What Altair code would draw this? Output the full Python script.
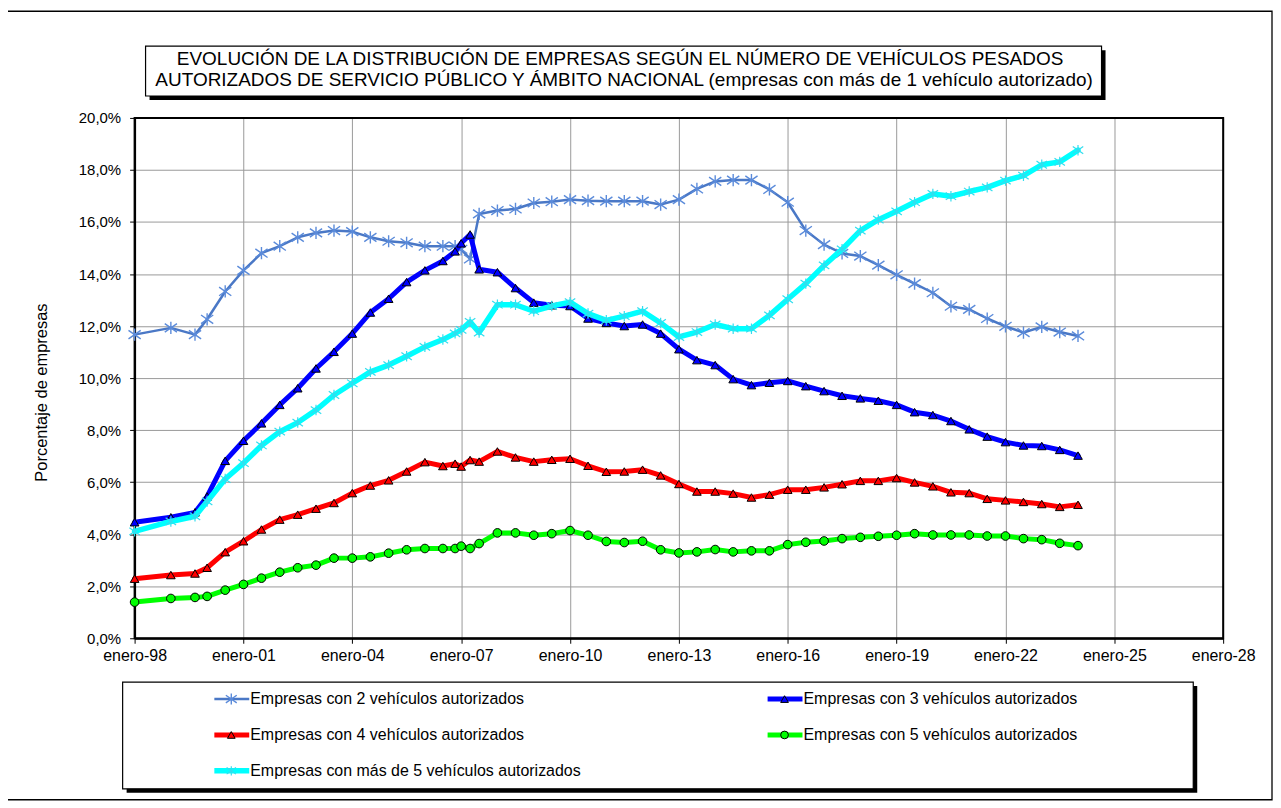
import altair as alt
import pandas as pd

fechas = ["1998-01", "1999-01", "1999-09", "2000-01", "2000-07", "2001-01", "2001-07",
          "2002-01", "2002-07", "2003-01", "2003-07", "2004-01", "2004-07", "2005-01",
          "2005-07", "2006-01", "2006-07", "2006-11", "2007-01", "2007-04", "2007-07",
          "2008-01", "2008-07", "2009-01", "2009-07", "2010-01", "2010-07", "2011-01",
          "2011-07", "2012-01", "2012-07", "2013-01", "2013-07", "2014-01", "2014-07",
          "2015-01", "2015-07", "2016-01", "2016-07", "2017-01", "2017-07", "2018-01",
          "2018-07", "2019-01", "2019-07", "2020-01", "2020-07", "2021-01", "2021-07",
          "2022-01", "2022-07", "2023-01", "2023-07", "2024-01"]

s2 = [11.67, 11.93, 11.67, 12.26, 13.33, 14.14, 14.80, 15.07, 15.41, 15.58, 15.67, 15.63,
      15.41, 15.26, 15.20, 15.07, 15.07, 15.07, 14.95, 14.58, 16.31, 16.44, 16.50, 16.73,
      16.78, 16.86, 16.82, 16.80, 16.80, 16.80, 16.67, 16.86, 17.27, 17.56, 17.61, 17.61,
      17.25, 16.76, 15.67, 15.13, 14.79, 14.69, 14.34, 13.97, 13.63, 13.28, 12.76, 12.64,
      12.29, 11.99, 11.75, 11.97, 11.77, 11.62]
s3 = [4.46, 4.65, 4.84, 5.45, 6.82, 7.59, 8.26, 8.97, 9.61, 10.37, 11.01, 11.71, 12.52,
      13.05, 13.69, 14.14, 14.50, 14.87, 15.18, 15.52, 14.18, 14.07, 13.46, 12.90, 12.80,
      12.77, 12.29, 12.12, 12.00, 12.06, 11.71, 11.11, 10.69, 10.50, 9.96, 9.73, 9.82,
      9.89, 9.69, 9.50, 9.32, 9.22, 9.13, 8.97, 8.69, 8.58, 8.35, 8.03, 7.75, 7.54, 7.41,
      7.39, 7.24, 7.02]
s4 = [2.29, 2.43, 2.49, 2.71, 3.31, 3.73, 4.18, 4.56, 4.75, 4.98, 5.20, 5.58, 5.87, 6.07,
      6.41, 6.77, 6.62, 6.71, 6.60, 6.85, 6.79, 7.18, 6.95, 6.79, 6.86, 6.90, 6.63, 6.40,
      6.41, 6.48, 6.26, 5.93, 5.64, 5.64, 5.56, 5.41, 5.52, 5.71, 5.71, 5.80, 5.92, 6.05,
      6.05, 6.16, 5.99, 5.84, 5.61, 5.58, 5.36, 5.30, 5.24, 5.16, 5.05, 5.13]
s5 = [1.39, 1.53, 1.57, 1.61, 1.85, 2.07, 2.31, 2.54, 2.71, 2.81, 3.08, 3.08, 3.13, 3.27,
      3.40, 3.45, 3.45, 3.45, 3.54, 3.45, 3.64, 4.05, 4.05, 3.96, 4.02, 4.14, 3.96, 3.72,
      3.68, 3.73, 3.40, 3.28, 3.32, 3.41, 3.32, 3.36, 3.36, 3.60, 3.69, 3.74, 3.83, 3.88,
      3.92, 3.96, 4.02, 3.97, 3.97, 3.97, 3.93, 3.93, 3.83, 3.79, 3.65, 3.56]
s6 = [4.11, 4.49, 4.69, 5.26, 6.12, 6.73, 7.41, 7.94, 8.29, 8.77, 9.35, 9.80, 10.24,
      10.50, 10.84, 11.20, 11.48, 11.72, 11.85, 12.16, 11.75, 12.82, 12.82, 12.57, 12.77,
      12.92, 12.48, 12.22, 12.38, 12.57, 12.12, 11.58, 11.77, 12.06, 11.90, 11.90, 12.41,
      13.03, 13.63, 14.33, 14.95, 15.67, 16.09, 16.41, 16.76, 17.08, 16.99, 17.17, 17.33,
      17.59, 17.78, 18.20, 18.31, 18.76]

nombres = ["Empresas con 2 vehículos autorizados",
           "Empresas con 3 vehículos autorizados",
           "Empresas con 4 vehículos autorizados",
           "Empresas con 5 vehículos autorizados",
           "Empresas con más de 5 vehículos autorizados"]
valores = [s2, s3, s4, s5, s6]

anyos_eje = [1998, 2001, 2004, 2007, 2010, 2013, 2016, 2019, 2022, 2025, 2028]
ticks_y = [0, 2, 4, 6, 8, 10, 12, 14, 16, 18, 20]

titulo_1 = "EVOLUCIÓN  DE LA DISTRIBUCIÓN  DE EMPRESAS SEGÚN EL NÚMERO  DE VEHÍCULOS PESADOS"
titulo_2 = "AUTORIZADOS  DE SERVICIO PÚBLICO Y ÁMBITO NACIONAL (empresas con más de 1 vehículo  autorizado)"
titulo_y = "Porcentaje de empresas"

rows = []
for n, vals in zip(nombres, valores):
    for f, v in zip(fechas, vals):
        rows.append({"fecha": f + "-01T00:00:00", "serie": n, "valor": v})
df = pd.DataFrame(rows)
uno = pd.DataFrame({"k": [0]})

FONT = "Liberation Sans"
W, H = 1092, 522
AST = "M-1,-0.7L1,0.7M-1,0.7L1,-0.7M0,-1L0,1"

estilos = [
    dict(line="#4A78C6", lw=2.5, shape=AST, size=150, filled=False, fill="#5B8BDA", stroke="#5B8BDA", sw=1.4),
    dict(line="#0000FF", lw=5, shape="triangle-up", size=75, filled=True, fill="#0000FF", stroke="#000000", sw=1),
    dict(line="#FF0000", lw=5, shape="triangle-up", size=75, filled=True, fill="#FF0000", stroke="#000000", sw=1),
    dict(line="#00FF00", lw=5, shape="circle", size=75, filled=True, fill="#00FF00", stroke="#000000", sw=1),
    dict(line="#00FFFF", lw=5.5, shape=AST, size=110, filled=False, fill="#33DDEE", stroke="#33DDEE", sw=1.2),
]

xenc = alt.X(
    "fecha:T",
    scale=alt.Scale(domain=[alt.DateTime(year=1998, month=1, date=1),
                            alt.DateTime(year=2028, month=1, date=1)]),
    axis=alt.Axis(values=[alt.DateTime(year=a, month=1, date=1) for a in anyos_eje],
                  labelExpr="'enero-' + timeFormat(datum.value, '%y')",
                  title="", grid=True, gridColor="#9a9a9a", gridWidth=1,
                  tickSize=5, tickColor="black", labelPadding=4, labelFontSize=16,
                  labelOverlap=False, labelFlush=False,
                  domainColor="black", domainWidth=2),
)
yenc = alt.Y(
    "valor:Q",
    scale=alt.Scale(domain=[0, 20], nice=False),
    axis=alt.Axis(values=ticks_y,
                  labelExpr="replace(format(datum.value, '.1f'), '.', ',') + '%'",
                  title=titulo_y, titleFontSize=16.5, titleFontWeight="normal",
                  titleX=-93, titleY=275, titleAlign="center", titleBaseline="middle",
                  grid=True, gridColor="#9a9a9a", gridWidth=1,
                  tickSize=5, tickColor="black", labelPadding=9, labelFontSize=15,
                  domainColor="black", domainWidth=2),
)


def caja(x1, y1, x2, y2, sombra=4, sw=1.2):
    out = []
    if sombra:
        out.append(alt.Chart(uno).mark_rect(fill="black").encode(
            x=alt.value(x1 + sombra), x2=alt.value(x2 + sombra),
            y=alt.value(y1 + sombra), y2=alt.value(y2 + sombra)))
    out.append(alt.Chart(uno).mark_rect(fill="white", stroke="black", strokeWidth=sw).encode(
        x=alt.value(x1), x2=alt.value(x2), y=alt.value(y1), y2=alt.value(y2)))
    return out


capas = []
# outer border
capas.append(alt.Chart(uno).mark_rect(fill="white", fillOpacity=0, stroke="black", strokeWidth=1.3).encode(
    x=alt.value(-130), x2=alt.value(1141), y=alt.value(-107), y2=alt.value(684)))
# title box
capas += caja(11, -72, 970, -22)
capas.append(alt.Chart(uno).mark_text(font=FONT, fontSize=19, fontWeight="normal", align="center",
                                      baseline="middle").encode(
    x=alt.value(487), y=alt.value(-59), text=alt.value(titulo_1)))
capas.append(alt.Chart(uno).mark_text(font=FONT, fontSize=19, fontWeight="normal", align="center",
                                      baseline="middle").encode(
    x=alt.value(491), y=alt.value(-38), text=alt.value(titulo_2)))
# plot frame
capas.append(alt.Chart(uno).mark_rect(fill="white", fillOpacity=0, stroke="black", strokeWidth=2).encode(
    x=alt.value(0), x2=alt.value(W), y=alt.value(0), y2=alt.value(H)))


def punto_kwargs(e):
    if e["filled"]:
        return dict(shape=e["shape"], size=e["size"], filled=True, fill=e["fill"],
                    stroke=e["stroke"], strokeWidth=e["sw"], opacity=1)
    return dict(shape=e["shape"], size=e["size"], filled=False,
                stroke=e["stroke"], strokeWidth=e["sw"], opacity=1)


for n, e in zip(nombres, estilos):
    base = alt.Chart(df).transform_filter(alt.datum.serie == n)
    capas.append(base.mark_line(color=e["line"], strokeWidth=e["lw"], strokeJoin="round",
                                strokeCap="round").encode(x=xenc, y=yenc))
    capas.append(base.mark_point(**punto_kwargs(e)).encode(x=xenc, y=yenc))

# legend
capas += caja(-12, 566, 1062, 673)
filas = [583, 619, 655]
cols = [80, 635]
for i, (n, e) in enumerate(zip(nombres, estilos)):
    lx = cols[i % 2]
    ly = filas[i // 2]
    capas.append(alt.Chart(uno).mark_rule(color=e["line"], strokeWidth=e["lw"]).encode(
        x=alt.value(lx), x2=alt.value(lx + 35), y=alt.value(ly)))
    capas.append(alt.Chart(uno).mark_point(**dict(punto_kwargs(e), size=e["size"] * 0.8)).encode(
        x=alt.value(lx + 17), y=alt.value(ly)))
    capas.append(alt.Chart(uno).mark_text(font=FONT, fontSize=16, align="left", baseline="middle").encode(
        x=alt.value(lx + 36), y=alt.value(ly), text=alt.value(n)))

chart = alt.layer(*capas).properties(
    width=W, height=H,
    autosize=alt.AutoSizeParams(type="none"),
    padding={"left": 127, "top": 109, "right": 50, "bottom": 165},
).configure_view(strokeWidth=0).configure_axis(
    labelFont=FONT, titleFont=FONT, labelColor="black", titleColor="black"
).configure(font=FONT)

chart.save("out.html", embed_options={"renderer": "svg", "actions": False})
